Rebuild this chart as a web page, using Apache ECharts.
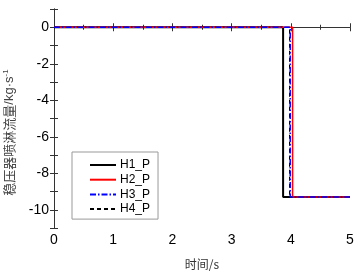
<!DOCTYPE html>
<html><head><meta charset="utf-8">
<script src="https://cdn.jsdelivr.net/npm/echarts@6/dist/echarts.min.js"></script>
<style>html,body{margin:0;padding:0;background:#fff}#c{width:360px;height:276px}</style>
</head><body><div id="c"></div>
<script>
const seriesNames = ['H1_P', 'H2_P', 'H3_P', 'H4_P'];
const h1X = [0, 3.87, 3.87, 5], h1Y = [0, 0, -9.3, -9.3];
const h2X = [0, 4.03, 4.03, 5], h2Y = [0, 0, -9.3, -9.3];
const h3X = [0, 3.99, 3.99, 5], h3Y = [0, 0, -9.3, -9.3];
const h4X = [0, 3.98, 3.98, 5], h4Y = [0, 0, -9.3, -9.3];
const xTicks = [0, 1, 2, 3, 4, 5];
const yTicks = [0, -2, -4, -6, -8, -10];

const zip = (xs, ys) => xs.map((x, i) => [x, ys[i]]);
const styles = [
  {color: '#000000', width: 2, type: 'solid'},
  {color: '#ff0000', width: 1.5, type: 'solid'},
  {color: '#0000ff', width: 1.5, type: [6, 2, 1.5, 2]},
  {color: '#000000', width: 1.2, type: [4, 3]}
];
const zOrder = [1, 3, 4, 2];
const dataSets = [zip(h1X, h1Y), zip(h2X, h2Y), zip(h3X, h3Y), zip(h4X, h4Y)];
const font = 'Liberation Sans, Arial, sans-serif';
const axisLine = {show: true, lineStyle: {color: '#333', width: 1}};

const chart = echarts.init(document.getElementById('c'), null, {renderer: 'canvas'});
chart.setOption({
  animation: false,
  grid: {left: 54, right: 10, top: 9, bottom: 48, containLabel: false, outerBoundsMode: 'none'},
  legend: {
    orient: 'vertical', left: 72, top: 152, width: 85,
    data: seriesNames,
    itemWidth: 26, itemHeight: 10, itemGap: 2.7,
    padding: [7, 8, 4, 17],
    borderColor: '#999', borderWidth: 1,
    itemStyle: {color: 'transparent', borderColor: 'transparent', borderWidth: 0},
    textStyle: {fontFamily: font, fontSize: 12, color: '#000', padding: [0, 0, 0, -1]}
  },
  xAxis: [{
    type: 'value', min: 0, max: 5, interval: 1,
    name: '时间/s', nameLocation: 'middle', nameGap: 30,
    nameTextStyle: {fontFamily: 'Noto Sans CJK SC', fontSize: 12, color: '#333'},
    axisLine: axisLine,
    axisTick: {inside: true, length: 4, lineStyle: {color: '#333'}},
    minorTick: {show: true, splitNumber: 2, length: 2.5, lineStyle: {color: '#333'}},
    axisLabel: {fontFamily: font, fontSize: 14, color: '#000', margin: 5,
      formatter: v => xTicks.includes(v) ? String(v) : ''},
    splitLine: {show: false}
  }, {
    type: 'value', min: 0, max: 5, interval: 1, position: 'top',
    axisLine: axisLine,
    axisTick: {inside: true, length: 4, lineStyle: {color: '#333'}},
    minorTick: {show: true, splitNumber: 2, length: 2.5, lineStyle: {color: '#333'}},
    axisLabel: {show: false}, splitLine: {show: false}
  }],
  yAxis: [{
    type: 'value', min: -11, max: 1, interval: 1,
    name: '{a|稳压器喷淋流量}{c|/kg·s}{b|-1}', nameLocation: 'middle', nameGap: 37,
    nameTextStyle: {
      padding: [0, 28, 0, 0],
      rich: {
        a: {fontFamily: 'Noto Sans CJK SC', fontSize: 13, color: '#444'},
        c: {fontFamily: font, fontSize: 13, color: '#444'},
        b: {fontFamily: font, fontSize: 8, color: '#444', verticalAlign: 'top', padding: [0, 0, 7, 0]}
      }
    },
    axisLine: axisLine,
    axisTick: {inside: true, length: 4, lineStyle: {color: '#333'}},
    axisLabel: {fontFamily: font, fontSize: 14, color: '#000', margin: 5,
      formatter: v => yTicks.includes(v) ? String(v) : ''},
    splitLine: {show: false}
  }, {
    type: 'value', min: -11, max: 1, interval: 1, position: 'right',
    axisLine: axisLine,
    axisTick: {inside: true, length: 4, lineStyle: {color: '#333'}},
    axisLabel: {show: false}, splitLine: {show: false}
  }],
  series: seriesNames.map((n, i) => ({
    name: n, type: 'line', data: dataSets[i], symbol: 'none', showSymbol: false,
    xAxisIndex: 0, yAxisIndex: 0,
    lineStyle: styles[i], itemStyle: {color: styles[i].color}, z: zOrder[i]
  }))
});
</script></body></html>
